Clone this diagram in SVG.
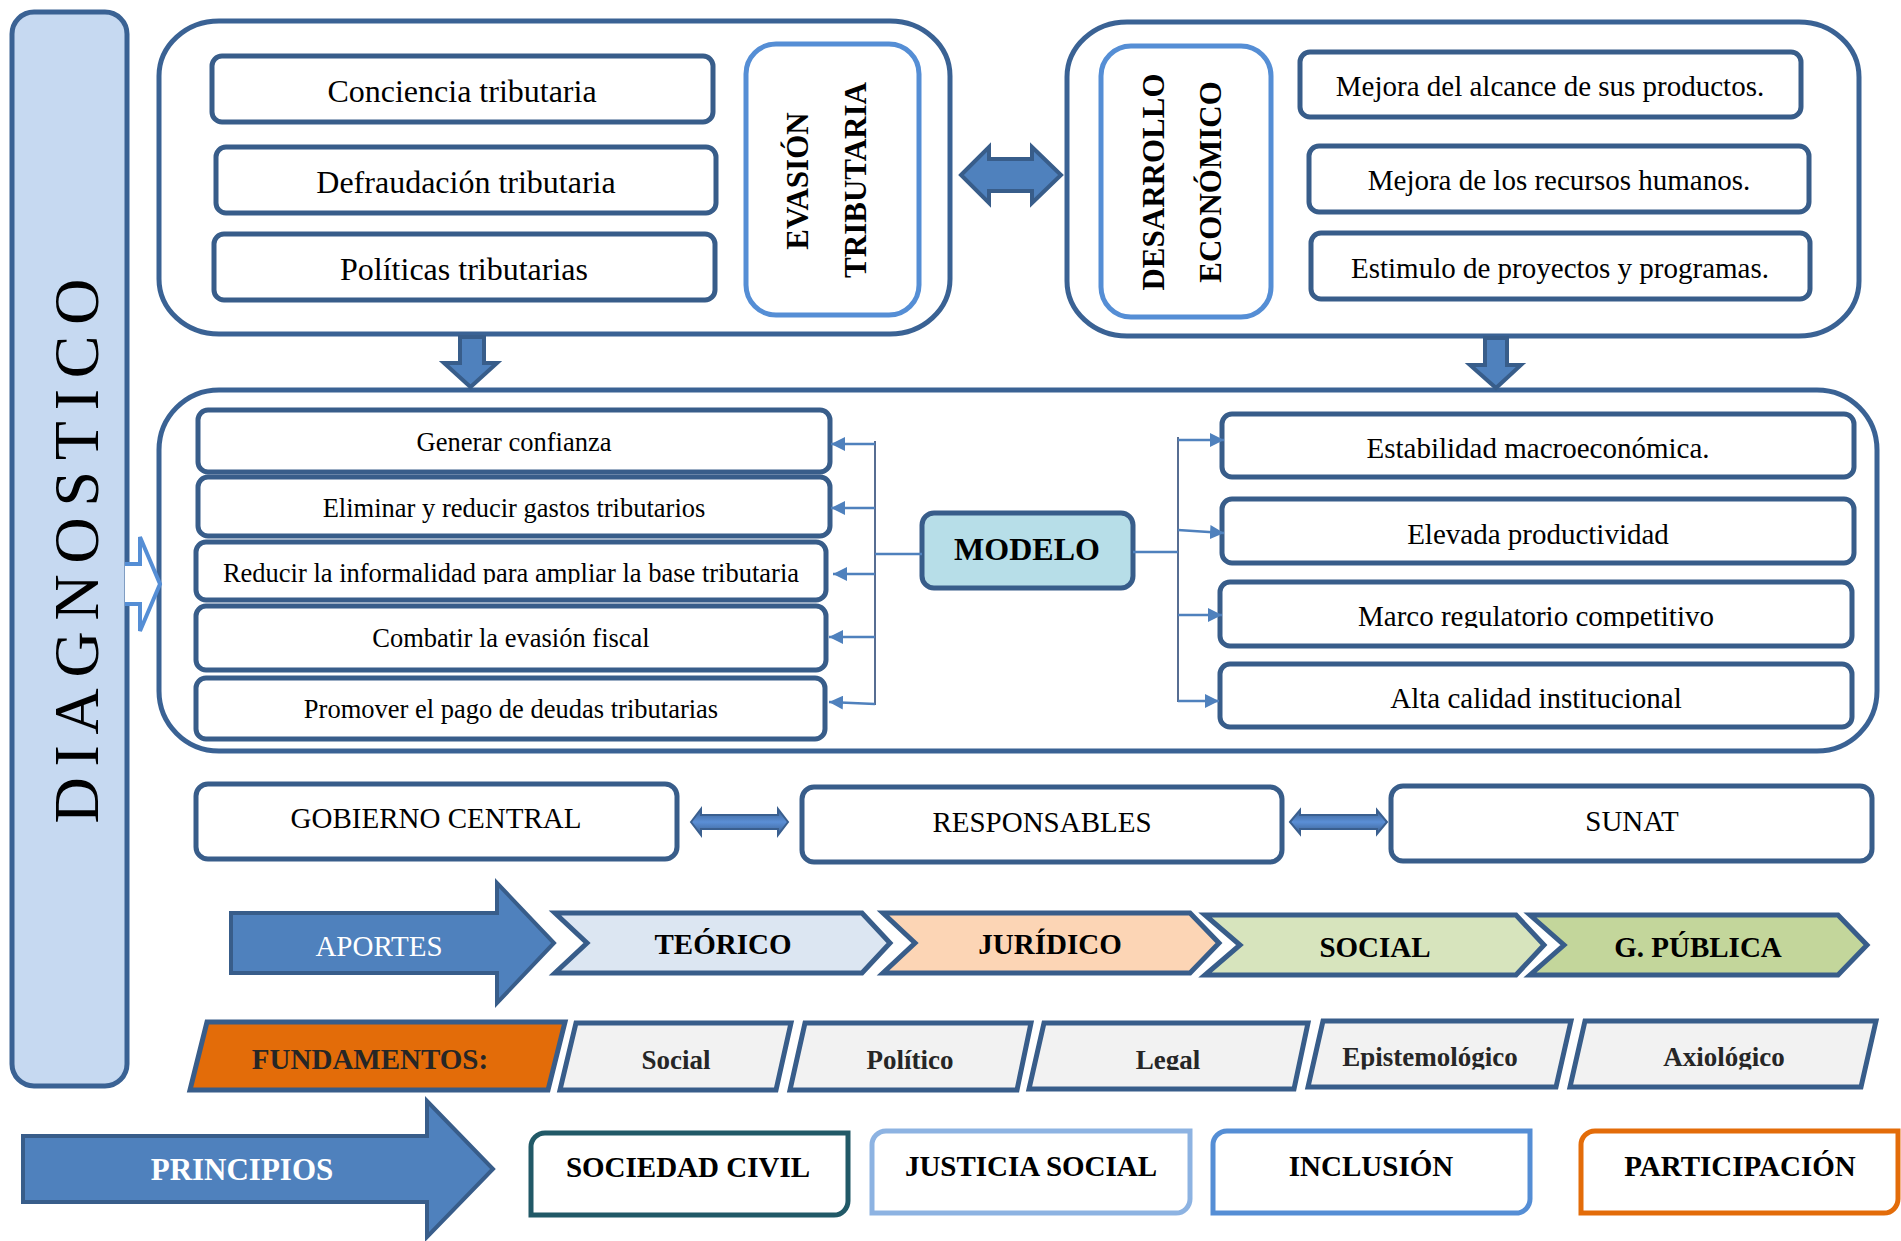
<svg xmlns="http://www.w3.org/2000/svg" width="1901" height="1241" viewBox="0 0 1901 1241">
<style>
.t{font-family:"Liberation Serif","Times New Roman",serif;fill:#000}
.b{font-weight:bold}
.cont{fill:#fff;stroke:#3A6294;stroke-width:5}
.box{fill:#fff;stroke:#385D8A;stroke-width:5}
.lbox{fill:#fff;stroke:#558ED5;stroke-width:5}
.blk{fill:#4F81BD;stroke:#385D8A;stroke-width:4}
.chev{stroke:#385D8A;stroke-width:5}
.par{fill:#F2F2F2;stroke:#385D8A;stroke-width:5}
.con{stroke:#4F81BD;stroke-width:2.5;fill:none}
.vline{stroke:#1F3D6E;stroke-width:1.5;fill:none}
</style>
<defs>
<marker id="ah" viewBox="0 0 14 14" refX="14" refY="7" markerWidth="14" markerHeight="14" markerUnits="userSpaceOnUse" orient="auto">
<path d="M0,0 L14,7 L0,14 Z" fill="#4F81BD"/>
</marker>
<linearGradient id="dg" x1="0" y1="0" x2="0" y2="1">
<stop offset="0" stop-color="#3A5F8F"/>
<stop offset="0.5" stop-color="#5B8FD6"/>
<stop offset="1" stop-color="#3A5F8F"/>
</linearGradient>
<clipPath id="c1"><rect x="190" y="540" width="650" height="44"/></clipPath>
<clipPath id="c2"><rect x="1220" y="580" width="640" height="48"/></clipPath>
<clipPath id="c3"><rect x="180" y="1020" width="1700" height="50"/></clipPath>
<clipPath id="c4"><rect x="1300" y="1020" width="580" height="49.5"/></clipPath>
</defs>

<g id="diagnostico">
<rect x="12" y="12" width="115" height="1074" rx="22" fill="#C6D9F1" stroke="#3A6294" stroke-width="5"/>
<text class="t" font-size="64" text-anchor="middle" textLength="545" lengthAdjust="spacing" transform="translate(98,551) rotate(-90)">DIAGNOSTICO</text>
</g>

<g id="evasion-group">
<rect class="cont" x="159" y="21" width="791" height="313" rx="60" ry="55"/>
<g id="conciencia"><rect class="box" x="212" y="56" width="501" height="66" rx="10"/><text class="t" font-size="32" x="462" y="102" text-anchor="middle">Conciencia tributaria</text></g>
<g id="defraudacion"><rect class="box" x="216" y="147" width="500" height="66" rx="10"/><text class="t" font-size="32" x="466" y="193" text-anchor="middle">Defraudación tributaria</text></g>
<g id="politicas"><rect class="box" x="214" y="234" width="501" height="66" rx="10"/><text class="t" font-size="32" x="464" y="280" text-anchor="middle">Políticas tributarias</text></g>
<g id="evasion"><rect class="lbox" x="746" y="44" width="173" height="271" rx="30"/>
<text class="t b" font-size="31" text-anchor="middle" transform="translate(808,181) rotate(-90)">EVASIÓN</text>
<text class="t b" font-size="31" text-anchor="middle" transform="translate(866,180) rotate(-90)">TRIBUTARIA</text></g>
</g>

<g id="desarrollo-group">
<rect class="cont" x="1067" y="22" width="792" height="314" rx="60" ry="55"/>
<g id="desarrollo"><rect class="lbox" x="1101" y="46" width="170" height="271" rx="30"/>
<text class="t b" font-size="31" text-anchor="middle" transform="translate(1164,182) rotate(-90)">DESARROLLO</text>
<text class="t b" font-size="31" text-anchor="middle" transform="translate(1221,182) rotate(-90)">ECONÓMICO</text></g>
<g id="mejora-alcance"><rect class="box" x="1300" y="52" width="501" height="65" rx="10"/><text class="t" font-size="29" x="1550" y="96" text-anchor="middle">Mejora del alcance de sus productos.</text></g>
<g id="mejora-recursos"><rect class="box" x="1309" y="146" width="500" height="66" rx="10"/><text class="t" font-size="29" x="1559" y="190" text-anchor="middle">Mejora de los recursos humanos.</text></g>
<g id="estimulo"><rect class="box" x="1311" y="233" width="499" height="66" rx="10"/><text class="t" font-size="29" x="1560" y="278" text-anchor="middle">Estimulo de proyectos y programas.</text></g>
</g>

<g id="modelo-group">
<rect class="cont" x="159" y="390" width="1718" height="361" rx="60"/>
<g id="generar"><rect class="box" x="198" y="410" width="632" height="62" rx="10"/><text class="t" font-size="26.5" x="514" y="451" text-anchor="middle">Generar confianza</text></g>
<g id="eliminar"><rect class="box" x="198" y="477" width="632" height="59" rx="10"/><text class="t" font-size="26.5" x="514" y="517" text-anchor="middle">Eliminar y reducir gastos tributarios</text></g>
<g id="reducir"><rect class="box" x="196" y="542" width="630" height="58" rx="10"/><text class="t" font-size="26.5" x="511" y="582" text-anchor="middle" clip-path="url(#c1)">Reducir la informalidad para ampliar la base tributaria</text></g>
<g id="combatir"><rect class="box" x="196" y="606" width="630" height="64" rx="10"/><text class="t" font-size="26.5" x="511" y="647" text-anchor="middle">Combatir la evasión fiscal</text></g>
<g id="promover"><rect class="box" x="196" y="678" width="629" height="61" rx="10"/><text class="t" font-size="26.5" x="511" y="718" text-anchor="middle">Promover el pago de deudas tributarias</text></g>
<g id="modelo"><rect x="922" y="513" width="211" height="75" rx="12" fill="#B7DEE8" stroke="#385D8A" stroke-width="5"/><text class="t b" font-size="32" x="1027" y="560" text-anchor="middle">MODELO</text></g>
<g id="estabilidad"><rect class="box" x="1222" y="414" width="632" height="63" rx="10"/><text class="t" font-size="29" x="1538" y="458" text-anchor="middle">Estabilidad macroeconómica.</text></g>
<g id="elevada"><rect class="box" x="1222" y="499" width="632" height="64" rx="10"/><text class="t" font-size="29" x="1538" y="544" text-anchor="middle">Elevada productividad</text></g>
<g id="marco"><rect class="box" x="1220" y="582" width="632" height="64" rx="10"/><text class="t" font-size="29" x="1536" y="626" text-anchor="middle" clip-path="url(#c2)">Marco regulatorio competitivo</text></g>
<g id="alta"><rect class="box" x="1220" y="664" width="632" height="63" rx="10"/><text class="t" font-size="29" x="1536" y="708" text-anchor="middle">Alta calidad institucional</text></g>
</g>

<g id="connectors">
<path class="blk" d="M961,175 L989,147 V159 H1032 V147 L1061,175 L1032,203 V191 H989 V203 Z"/>
<path class="blk" d="M460,337 H484 V363 H497 L470.5,387 L444,363 H460 Z"/>
<path class="blk" d="M1485,338 H1507 V365 H1521 L1496,388 L1470,365 H1485 Z"/>
<path d="M125,564 H140 V537 L160,584 L140,631 V604 H125" fill="#fff" stroke="#558ED5" stroke-width="4"/>
<line class="vline" x1="875" y1="441" x2="875" y2="705"/>
<line class="con" x1="922" y1="554" x2="875" y2="554"/>
<line class="con" x1="875" y1="444" x2="831" y2="444" marker-end="url(#ah)"/>
<line class="con" x1="875" y1="508" x2="831" y2="508" marker-end="url(#ah)"/>
<line class="con" x1="875" y1="574" x2="833" y2="574" marker-end="url(#ah)"/>
<line class="con" x1="875" y1="637" x2="829" y2="637" marker-end="url(#ah)"/>
<line class="con" x1="875" y1="704" x2="829" y2="702" marker-end="url(#ah)"/>
<line class="vline" x1="1178" y1="437" x2="1178" y2="702"/>
<line class="con" x1="1133" y1="552" x2="1178" y2="552"/>
<line class="con" x1="1178" y1="440" x2="1224" y2="440" marker-end="url(#ah)"/>
<line class="con" x1="1178" y1="530" x2="1224" y2="533" marker-end="url(#ah)"/>
<line class="con" x1="1178" y1="615" x2="1222" y2="615" marker-end="url(#ah)"/>
<line class="con" x1="1178" y1="701" x2="1219" y2="701" marker-end="url(#ah)"/>
<path d="M691,822 L701,809 V815 H778 V809 L788,822 L778,835 V829 H701 V835 Z" fill="url(#dg)" stroke="#3A5F8F" stroke-width="2"/>
<path d="M1290,822 L1300,810 V815 H1377 V810 L1387,822 L1377,834 V829 H1300 V834 Z" fill="url(#dg)" stroke="#3A5F8F" stroke-width="2"/>
</g>

<g id="gobierno"><rect class="box" x="196" y="784" width="481" height="75" rx="12"/><text class="t" font-size="29" x="436" y="828" text-anchor="middle">GOBIERNO CENTRAL</text></g>
<g id="responsables"><rect class="box" x="802" y="787" width="480" height="75" rx="12"/><text class="t" font-size="29" x="1042" y="832" text-anchor="middle">RESPONSABLES</text></g>
<g id="sunat"><rect class="box" x="1391" y="786" width="481" height="75" rx="12"/><text class="t" font-size="29" x="1632" y="831" text-anchor="middle">SUNAT</text></g>

<g id="aportes"><path class="blk" d="M231,913 H497 V883 L554,943 L497,1003 V973 H231 Z"/><text class="t" font-size="29" x="379" y="956" text-anchor="middle" style="fill:#fff">APORTES</text></g>
<g id="teorico"><path class="chev" fill="#DCE6F2" d="M555,913 H862 L890,943 L862,973 H555 L587,943 Z"/><text class="t b" font-size="29" x="723" y="954" text-anchor="middle">TEÓRICO</text></g>
<g id="juridico"><path class="chev" fill="#FCD5B5" d="M883,913 H1190 L1219,943 L1190,973 H883 L915,943 Z"/><text class="t b" font-size="29" x="1050" y="954" text-anchor="middle">JURÍDICO</text></g>
<g id="social"><path class="chev" fill="#D7E4BD" d="M1205,915 H1516 L1544,945 L1516,975 H1205 L1240,945 Z"/><text class="t b" font-size="29" x="1375" y="957" text-anchor="middle">SOCIAL</text></g>
<g id="gpublica"><path class="chev" fill="#C3D69B" d="M1530,915 H1838 L1867,945 L1838,975 H1530 L1564,945 Z"/><text class="t b" font-size="29" x="1698" y="957" text-anchor="middle">G. PÚBLICA</text></g>

<g id="fundamentos"><path d="M207,1022 H565 L548,1090 H190 Z" fill="#E36C09" stroke="#385D8A" stroke-width="5"/><text class="t b" font-size="29" x="370" y="1069" text-anchor="middle" style="fill:#262626">FUNDAMENTOS:</text></g>
<g id="f-social"><path class="par" d="M576,1023 H791 L776,1090 H560 Z"/><text class="t b" font-size="27" x="676" y="1069" text-anchor="middle" style="fill:#262626">Social</text></g>
<g id="f-politico"><path class="par" d="M805,1023 H1031 L1017,1090 H790 Z"/><text class="t b" font-size="27" x="910" y="1069" text-anchor="middle" style="fill:#262626">Político</text></g>
<g id="f-legal"><path class="par" d="M1044,1023 H1308 L1294,1089 H1029 Z"/><text class="t b" font-size="27" x="1168" y="1069" text-anchor="middle" style="fill:#262626" clip-path="url(#c3)">Legal</text></g>
<g id="f-epistemologico"><path class="par" d="M1323,1021 H1571 L1556,1087 H1308 Z"/><text class="t b" font-size="27" x="1430" y="1066" text-anchor="middle" style="fill:#262626" clip-path="url(#c4)">Epistemológico</text></g>
<g id="f-axiologico"><path class="par" d="M1585,1021 H1876 L1861,1087 H1570 Z"/><text class="t b" font-size="27" x="1724" y="1066" text-anchor="middle" style="fill:#262626" clip-path="url(#c4)">Axiológico</text></g>

<g id="principios"><path class="blk" d="M23,1136 H427 V1101 L493,1169 L427,1237 V1202 H23 Z"/><text class="t b" font-size="31" x="242" y="1180" text-anchor="middle" style="fill:#fff">PRINCIPIOS</text></g>
<g id="sociedad-civil"><path d="M545,1133 H848 V1201 A14,14 0 0 1 834,1215 H531 V1147 A14,14 0 0 1 545,1133 Z" fill="#fff" stroke="#215967" stroke-width="5"/><text class="t b" font-size="29" x="688" y="1177" text-anchor="middle">SOCIEDAD CIVIL</text></g>
<g id="justicia-social"><path d="M886,1131 H1190 V1199 A14,14 0 0 1 1176,1213 H872 V1145 A14,14 0 0 1 886,1131 Z" fill="#fff" stroke="#8DB3E2" stroke-width="5"/><text class="t b" font-size="29" x="1031" y="1176" text-anchor="middle">JUSTICIA SOCIAL</text></g>
<g id="inclusion"><path d="M1227,1131 H1530 V1199 A14,14 0 0 1 1516,1213 H1213 V1145 A14,14 0 0 1 1227,1131 Z" fill="#fff" stroke="#558ED5" stroke-width="5"/><text class="t b" font-size="29" x="1371" y="1176" text-anchor="middle">INCLUSIÓN</text></g>
<g id="participacion"><path d="M1595,1131 H1898 V1199 A14,14 0 0 1 1884,1213 H1581 V1145 A14,14 0 0 1 1595,1131 Z" fill="#fff" stroke="#E36C09" stroke-width="5"/><text class="t b" font-size="29" x="1740" y="1176" text-anchor="middle">PARTICIPACIÓN</text></g>
</svg>
